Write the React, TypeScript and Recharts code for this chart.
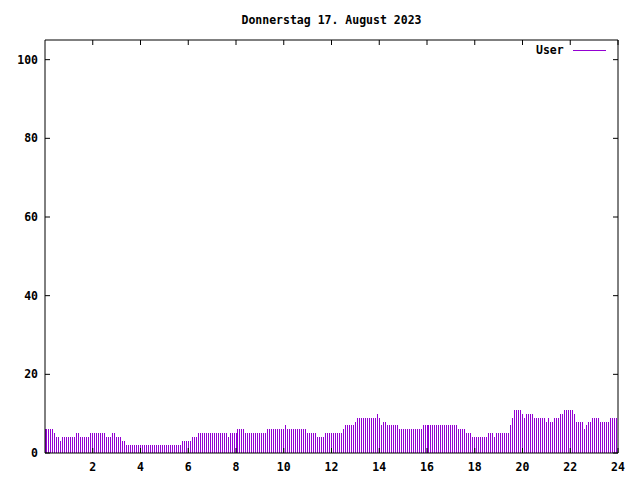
import { BarChart, Bar, XAxis, YAxis, Legend } from "recharts";

const TITLE = "Donnerstag 17. August 2023";
const SERIES_NAME = "User";
const BAR_COLOR = "#9400D3";
const FONT = "'DejaVu Sans Mono', monospace";

const X_TICKS = [2, 4, 6, 8, 10, 12, 14, 16, 18, 20, 22, 24];
const Y_TICKS = [0, 20, 40, 60, 80, 100];

// users per 5-minute slot, 00:00 - 05:55
const usersNight = [
  6, 6, 6, 6, 6, 5, 4, 4, 3, 4, 4, 4, 4, 4, 4, 4, 5, 5, 4, 4, 4, 4, 4, 5,
  5, 5, 5, 5, 5, 5, 5, 4, 4, 4, 5, 5, 4, 4, 4, 3, 3, 2, 2, 2, 2, 2, 2, 2,
  2, 2, 2, 2, 2, 2, 2, 2, 2, 2, 2, 2, 2, 2, 2, 2, 2, 2, 2, 2, 2, 3, 3, 3,
];

// 06:00 - 11:55
const usersMorning = [
  3, 3, 4, 4, 4, 5, 5, 5, 5, 5, 5, 5, 5, 5, 5, 5, 5, 5, 5, 5, 4, 5, 5, 5,
  5, 6, 6, 6, 6, 5, 5, 5, 5, 5, 5, 5, 5, 5, 5, 5, 6, 6, 6, 6, 6, 6, 6, 6,
  6, 7, 6, 6, 6, 6, 6, 6, 6, 6, 6, 6, 5, 5, 5, 5, 5, 4, 4, 4, 4, 5, 5, 5,
];

// 12:00 - 17:55
const usersAfternoon = [
  5, 5, 5, 5, 5, 5, 6, 7, 7, 7, 7, 7, 8, 9, 9, 9, 9, 9, 9, 9, 9, 9, 9, 10,
  9, 7, 8, 8, 7, 7, 7, 7, 7, 7, 6, 6, 6, 6, 6, 6, 6, 6, 6, 6, 6, 6, 7, 7,
  7, 7, 7, 7, 7, 7, 7, 7, 7, 7, 7, 7, 7, 7, 7, 7, 6, 6, 6, 6, 5, 5, 5, 4,
];

// 18:00 - 23:55
const usersEvening = [
  4, 4, 4, 4, 4, 4, 4, 5, 5, 5, 4, 5, 5, 5, 5, 5, 5, 5, 7, 9, 11, 11, 11, 11,
  10, 9, 10, 10, 10, 10, 9, 9, 9, 9, 9, 9, 8, 9, 8, 8, 9, 9, 9, 10, 10, 11, 11, 11,
  11, 11, 10, 8, 8, 8, 8, 6, 7, 8, 8, 9, 9, 9, 9, 8, 8, 8, 8, 8, 9, 9, 9, 9,
];

const data = [...usersNight, ...usersMorning, ...usersAfternoon, ...usersEvening].map(
  (users, i) => ({ hour: (i * 5) / 60, users })
);

const textStyle = { fontFamily: FONT, fontSize: 11.5, fontWeight: "bold" as const };

function LeftTick(props: any) {
  const { x, y, payload } = props;
  return (
    <g>
      <line x1={x + 7} x2={x + 12} y1={y} y2={y} stroke="#000" />
      <text x={x} y={y} dy={4} textAnchor="end" fill="#000" style={textStyle}>
        {payload.value}
      </text>
    </g>
  );
}

function RightTick(props: any) {
  const { x, y } = props;
  return <line x1={x - 5} x2={x} y1={y} y2={y} stroke="#000" />;
}

function BottomTick(props: any) {
  const { x, y, payload } = props;
  return (
    <g>
      <line x1={x} x2={x} y1={y - 10} y2={y - 15} stroke="#000" />
      <text x={x} y={y} dy={8} textAnchor="middle" fill="#000" style={textStyle}>
        {payload.value}
      </text>
    </g>
  );
}

function TopTick(props: any) {
  const { x, y } = props;
  return <line x1={x} x2={x} y1={y} y2={y + 5} stroke="#000" />;
}

function Impulse(props: any) {
  const { x, y, width, height } = props;
  return (
    <rect
      x={x + width / 2 - 0.5}
      y={y}
      width={1}
      height={height}
      fill={BAR_COLOR}
      shapeRendering="crispEdges"
    />
  );
}

// invisible series, only there so the mirrored frame axes get a domain
function NoMark() {
  return <g />;
}

function LegendBox() {
  return (
    <div style={{ display: "flex", alignItems: "center", ...textStyle }}>
      <span>{SERIES_NAME}</span>
      <svg width={33} height={3} style={{ marginLeft: 9 }}>
        <line x1={0} x2={33} y1={1.5} y2={1.5} stroke={BAR_COLOR} />
      </svg>
    </div>
  );
}

export default function App() {
  return (
    <div style={{ position: "fixed", top: 0, left: 0, width: 640, height: 480, background: "#fff" }}>
      <div
        style={{
          position: "absolute",
          top: 13,
          left: 45,
          width: 573,
          textAlign: "center",
          ...textStyle,
        }}
      >
        {TITLE}
      </div>
      <BarChart
        width={640}
        height={480}
        data={data}
        margin={{ top: 39, right: 21, bottom: 0, left: 0 }}
        barCategoryGap={0}
      >
        <XAxis
          dataKey="hour"
          type="number"
          domain={[0, 24]}
          ticks={X_TICKS}
          height={27}
          tickSize={0}
          tickMargin={10}
          tick={BottomTick}
          axisLine={{ stroke: "#000" }}
        />
        <XAxis
          xAxisId="top"
          dataKey="hour"
          type="number"
          orientation="top"
          domain={[0, 24]}
          ticks={X_TICKS}
          height={1}
          tickSize={0}
          tickMargin={0}
          tick={TopTick}
          axisLine={{ stroke: "#000" }}
        />
        <YAxis
          domain={[0, 105]}
          ticks={Y_TICKS}
          width={45}
          tickSize={0}
          tickMargin={7}
          tick={LeftTick}
          axisLine={{ stroke: "#000" }}
        />
        <YAxis
          yAxisId="right"
          orientation="right"
          domain={[0, 105]}
          ticks={Y_TICKS}
          width={1}
          tickSize={0}
          tickMargin={0}
          tick={RightTick}
          axisLine={{ stroke: "#000" }}
        />
        <Legend
          layout="horizontal"
          verticalAlign="middle"
          content={LegendBox}
          wrapperStyle={{ top: 43, left: 536, width: 90 }}
        />
        <Bar
          dataKey="users"
          name={SERIES_NAME}
          fill={BAR_COLOR}
          shape={Impulse}
          isAnimationActive={false}
        />
        <Bar
          dataKey="users"
          xAxisId="top"
          yAxisId="right"
          legendType="none"
          shape={NoMark}
          isAnimationActive={false}
        />
      </BarChart>
    </div>
  );
}
